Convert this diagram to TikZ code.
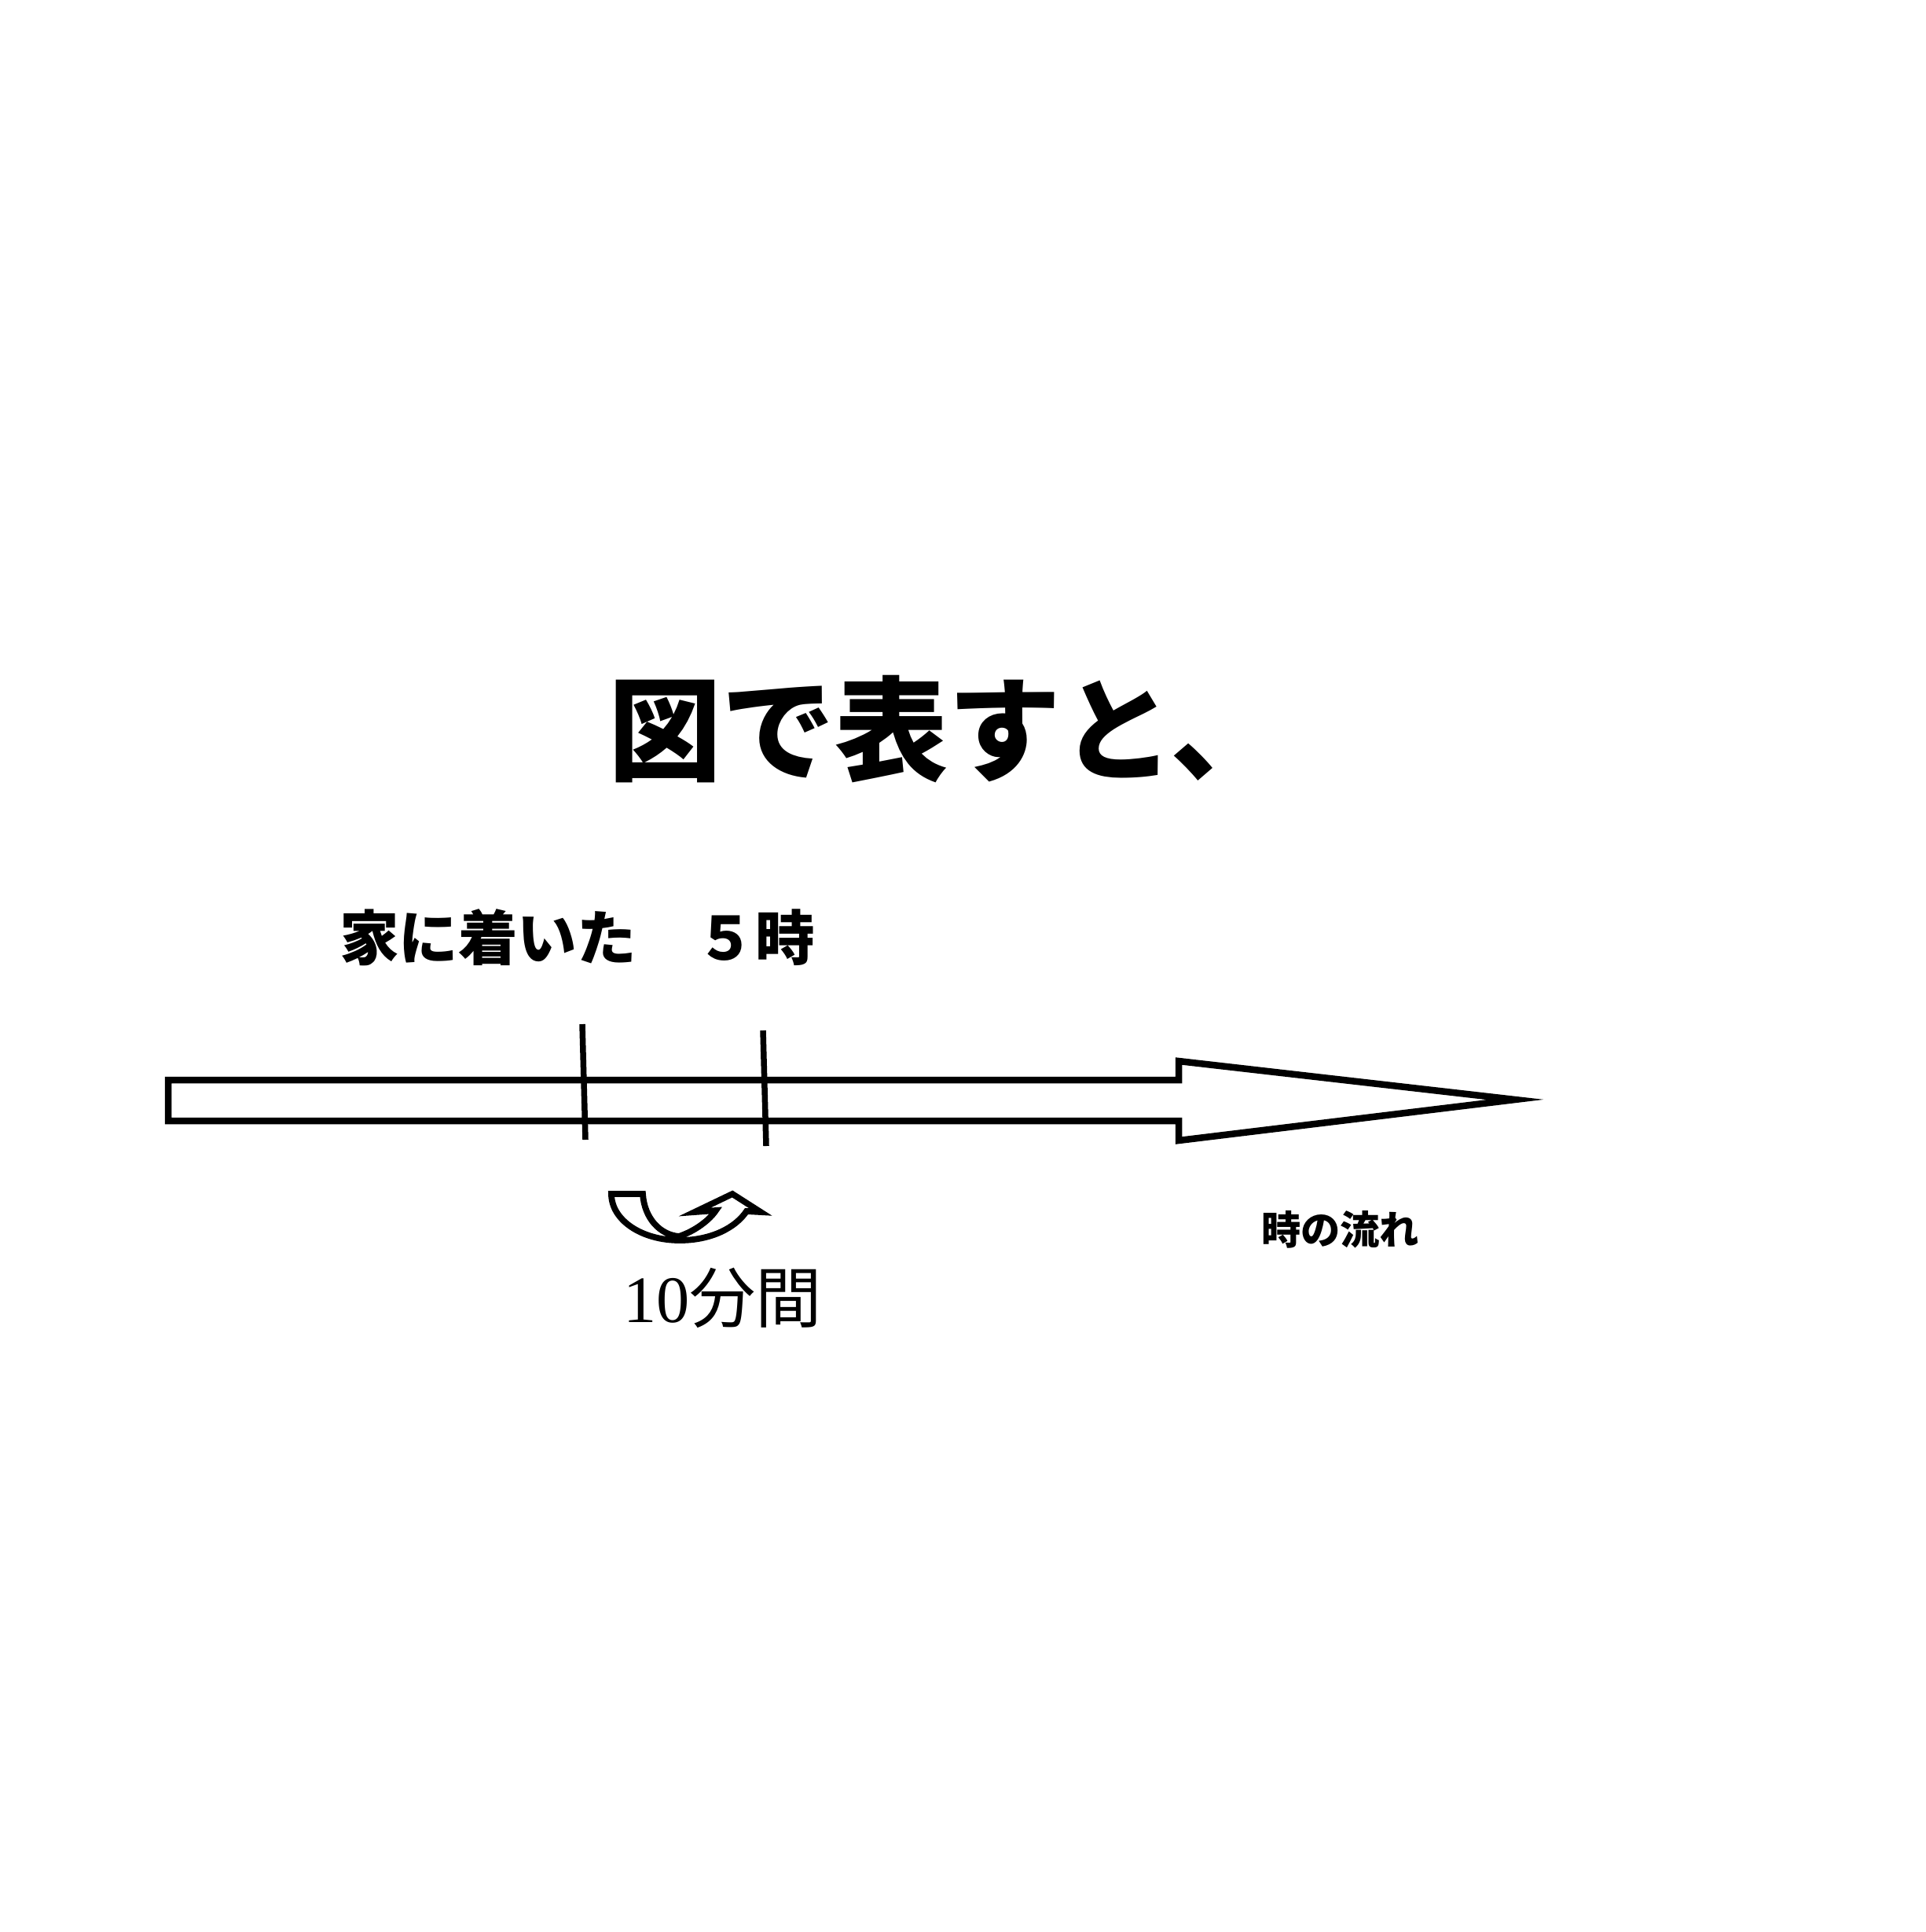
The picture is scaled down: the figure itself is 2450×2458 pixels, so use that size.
\documentclass[tikz,border=0pt]{standalone}
\usepackage{fontspec}
\newfontfamily\jp{Noto Sans CJK JP}
\newfontfamily\serifdigits{Liberation Serif}
\tikzset{
  outline/.style={draw=black, line width=0.085cm, line join=miter, fill=white},
  tickline/.style={draw=black, line width=0.075cm},
  jptext/.style={inner sep=0pt, outer sep=0pt, text=black},
}
\begin{document}
\begin{tikzpicture}[x=0.01cm, y=-0.01cm]
\useasboundingbox (0,0) rectangle (2450,2458);
\fill[white] (0,0) rectangle (2450,2458);

% title
\node[jptext, anchor=west] (title) at (774,928)
  {\jp\bfseries\fontsize{41pt}{41pt}\selectfont 図で表すと、};

% label above the arrow
\node[jptext, anchor=west] (arrive) at (432,1193)
  {\jp\bfseries\fontsize{21.5pt}{21.5pt}\selectfont 家に着いた　５時};

% main time arrow
\draw[outline] (214,1374) -- (1500,1374) -- (1500,1350) -- (1928,1399)
  -- (1500,1451) -- (1500,1426) -- (214,1426) -- cycle;

% ticks
\coordinate (t1a) at (741,1303);
\coordinate (t1b) at (745,1450);
\coordinate (t2a) at (971,1311);
\coordinate (t2b) at (975,1458);
\draw[tickline] (t1a) -- (t1b);
\draw[tickline] (t2a) -- (t2b);

% curved arrow
\draw[outline, line width=0.078cm] (778,1519) -- (818,1519)
  .. controls (820,1550) and (840,1571) .. (864,1573)
  .. controls (885,1566) and (903,1552) .. (911,1540)
  -- (884,1542) -- (932,1519) -- (968,1542) -- (950,1541)
  .. controls (936,1562) and (905,1578) .. (865,1578)
  .. controls (816,1578) and (778,1552) .. (778,1519) -- cycle;

% duration label
\node[jptext, anchor=base west] (dur) at (793,1682)
  {\fontsize{24pt}{24pt}\selectfont\serifdigits 10\jp 分間};

% flow of time label
\node[jptext, anchor=west] (flow) at (1605,1564)
  {\jp\bfseries\fontsize{14.3pt}{14.3pt}\selectfont 時の流れ};
\end{tikzpicture}
\end{document}
